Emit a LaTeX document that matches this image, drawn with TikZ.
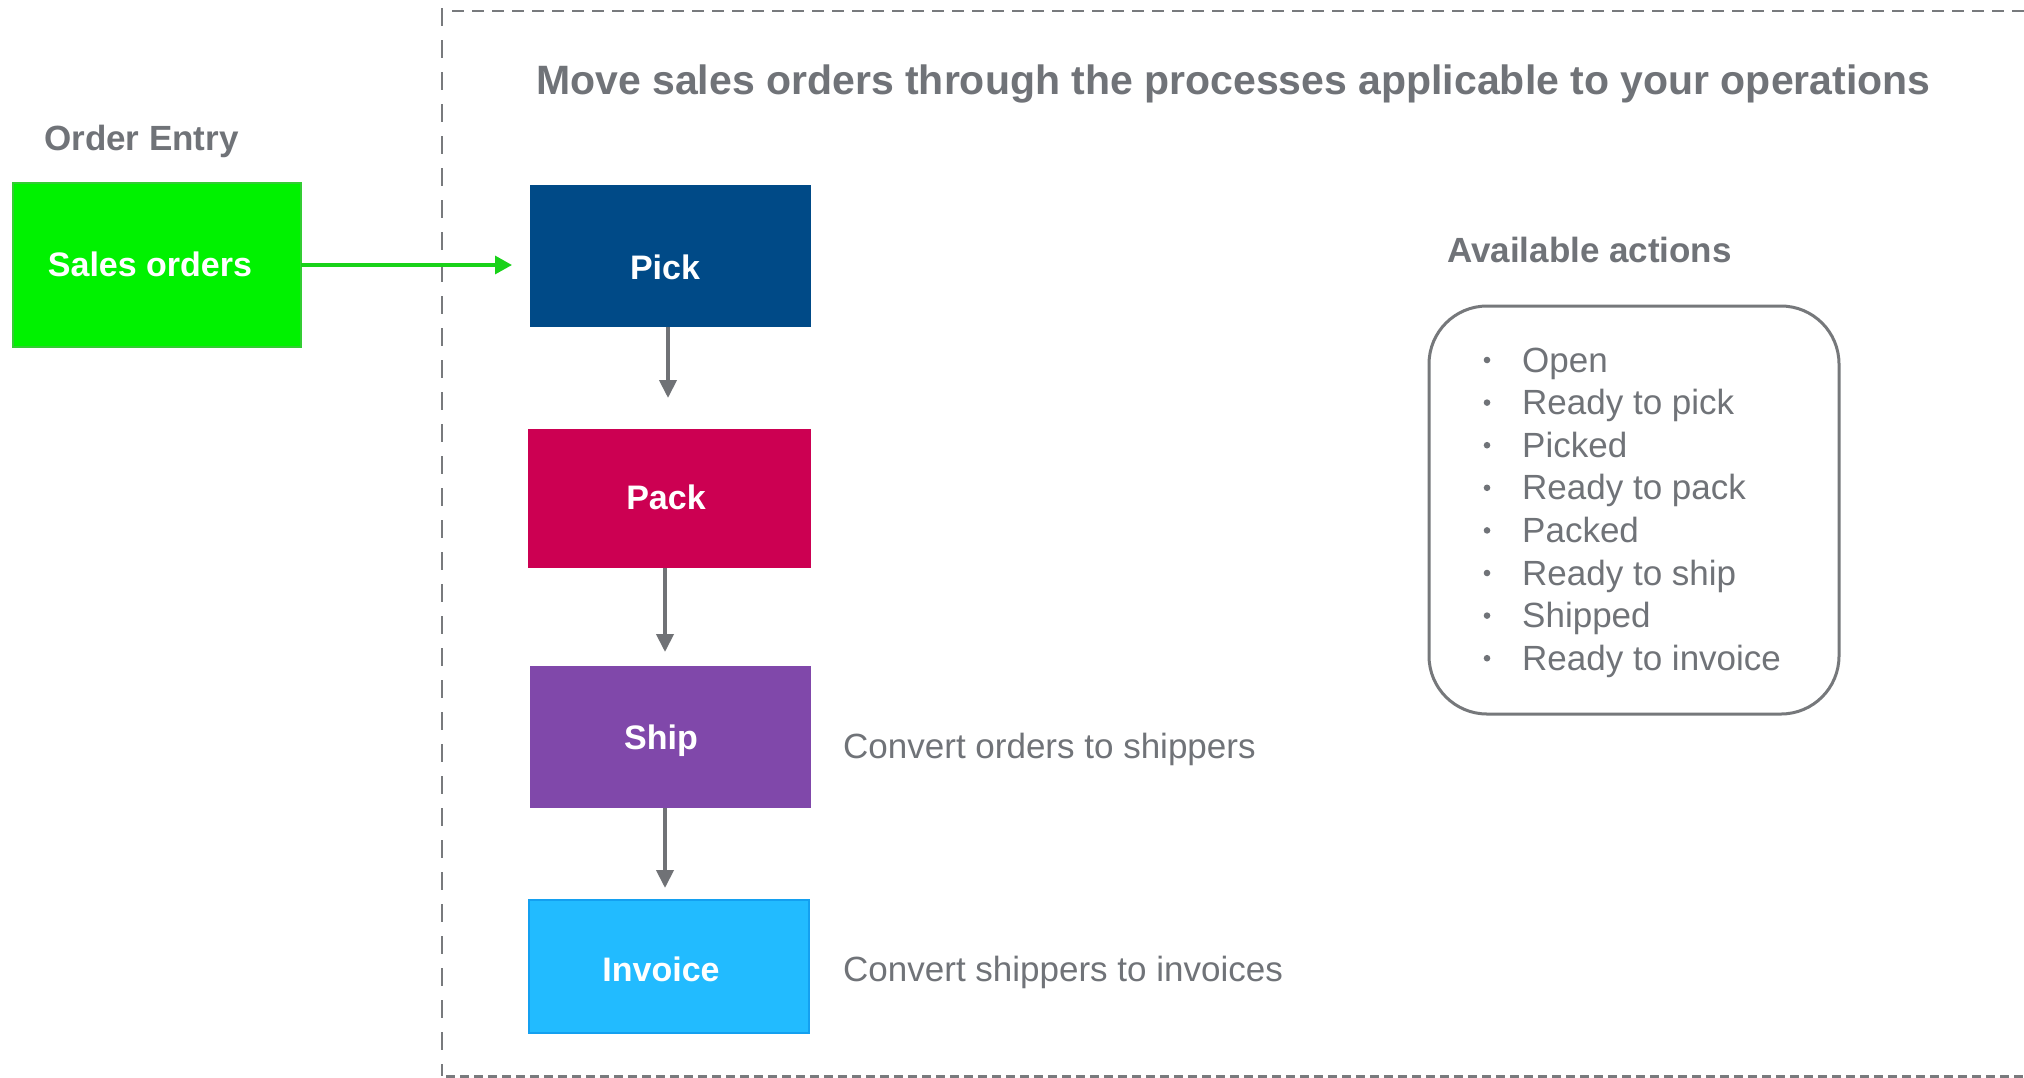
\documentclass[tikz,border=0pt]{standalone}
\usepackage{fontspec}
\setmainfont{Liberation Sans}
\usetikzlibrary{arrows.meta}
\definecolor{txtgray}{RGB}{112,115,120}
\definecolor{dashgray}{RGB}{120,122,125}
\definecolor{boxgreen}{RGB}{0,242,0}
\definecolor{greenedge}{RGB}{50,205,50}
\definecolor{arrowgreen}{RGB}{25,210,25}
\definecolor{pickblue}{RGB}{0,74,135}
\definecolor{packred}{RGB}{204,0,82}
\definecolor{shippurple}{RGB}{128,72,170}
\definecolor{invoiceblue}{RGB}{34,187,255}
\definecolor{invoiceedge}{RGB}{20,160,240}
\definecolor{arrowgray}{RGB}{112,114,118}
\definecolor{roundgray}{RGB}{118,120,123}
\begin{document}
\begin{tikzpicture}[x=1pt,y=-1pt,
  procbox/.style={rectangle, inner sep=0pt, outer sep=0pt, line width=1.2pt},
  boxlabel/.style={text=white, font=\fontsize{34}{40}\selectfont\bfseries, anchor=base, inner sep=0pt},
  graytext/.style={text=txtgray, font=\fontsize{35}{42}\selectfont, anchor=base west, inner sep=0pt},
  boldgray/.style={text=txtgray, font=\fontsize{35}{42}\selectfont\bfseries, anchor=base west, inner sep=0pt},
  flow/.style={draw=arrowgray, line width=4pt, -{Triangle[length=18pt,width=17pt]}},
  flowgreen/.style={draw=arrowgreen, line width=3.3pt, -{Triangle[length=17pt,width=18pt]}}
]
\useasboundingbox (0,0) rectangle (2024,1077);
\fill[white] (0,0) rectangle (2024,1077);

% dashed frame
\draw[dashgray, line width=2.8pt, dash pattern=on 12pt off 8pt] (452,11) -- (2030,11);
\draw[dashgray, line width=2.6pt, dash pattern=on 18pt off 14pt] (442,8) -- (442,1076);
\draw[dashgray, line width=2.2pt, dash pattern=on 9pt off 5pt] (446,1076.5) -- (2030,1076.5);

% title
\node[text=txtgray, font=\fontsize{41}{48}\selectfont\bfseries, anchor=base west, inner sep=0pt] (title) at (536,94) {Move sales orders through the processes applicable to your operations};

% order entry
\node[boldgray] (entry) at (44,150) {Order Entry};
\node[procbox, fill=boxgreen, draw=greenedge, minimum width=288pt, minimum height=164pt] (sales) at (157,265) {};
\node[boxlabel] (salest) at (150,276) {Sales orders};

% process boxes
\node[procbox, fill=pickblue, minimum width=281pt, minimum height=142pt] (pick) at (670.5,256) {};
\node[boxlabel] (pickt) at (665,279) {Pick};
\node[procbox, fill=packred, minimum width=283pt, minimum height=139pt] (pack) at (669.5,498.5) {};
\node[boxlabel] (packt) at (666,509) {Pack};
\node[procbox, fill=shippurple, minimum width=281pt, minimum height=142pt] (ship) at (670.5,737) {};
\node[boxlabel] (shipt) at (661,749) {Ship};
\node[procbox, fill=invoiceblue, draw=invoiceedge, minimum width=280pt, minimum height=133pt] (invoice) at (669,966.5) {};
\node[boxlabel] (invoicet) at (661,981) {Invoice};

% connectors
\draw[flowgreen, shorten >=18pt] (sales.east) -- (sales.east -| pick.west);
\draw[flow, shorten >=31pt] ([xshift=-2.5pt]pick.south) -- ([xshift=-2.5pt]pick.south |- pack.north);
\draw[flow, shorten >=14pt] ([xshift=-4.5pt]pack.south) -- ([xshift=-4.5pt]pack.south |- ship.north);
\draw[flow, shorten >=12pt] ([xshift=-5.5pt]ship.south) -- ([xshift=-5.5pt]ship.south |- invoice.north);

% side notes
\node[graytext] (noteship) at (843,758) {Convert orders to shippers};
\node[graytext] (noteinv) at (843,981) {Convert shippers to invoices};

% available actions
\node[boldgray] (avail) at (1447,262) {Available actions};
\node[draw=roundgray, line width=3pt, rounded corners=58pt, minimum width=410pt, minimum height=408pt, inner sep=0pt] (actions) at (1634,510) {};
\foreach \t [count=\i] in {Open, Ready to pick, Picked, Ready to pack, Packed, Ready to ship, Shipped, Ready to invoice} {
  \node[graytext] (item\i) at (1522, {372+42.6*(\i-1)}) {\t};
  \fill[txtgray] (1487, {360+42.6*(\i-1)}) circle (3.3pt);
}
\end{tikzpicture}
\end{document}
